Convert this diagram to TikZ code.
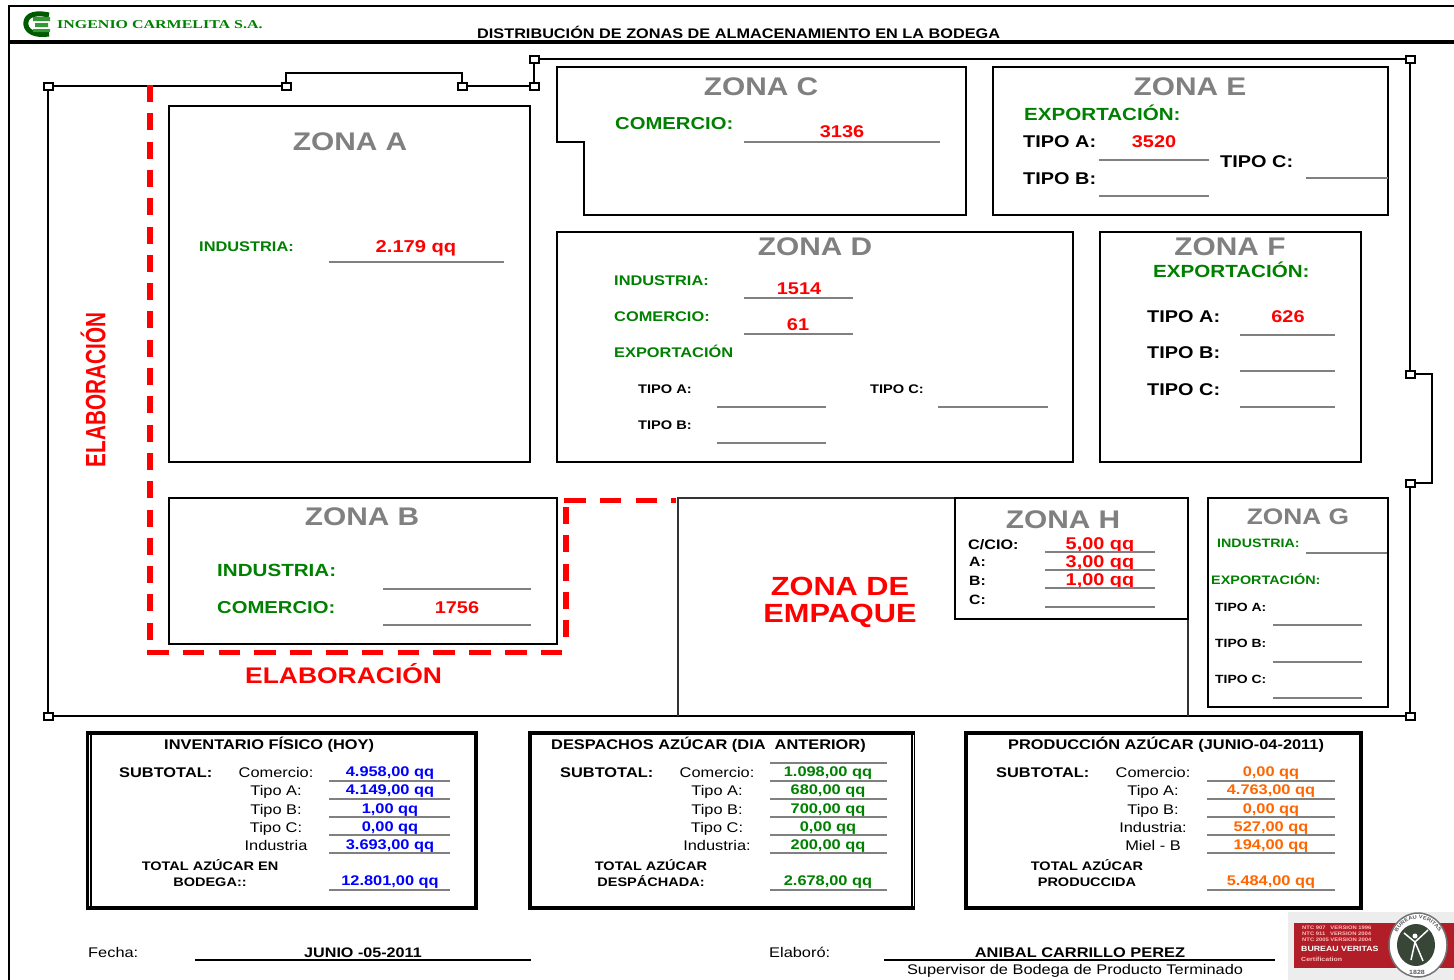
\documentclass[tikz,border=0pt]{standalone}
\usepackage{fontspec}
\setmainfont[FakeStretch=1.17]{Liberation Sans}
\newfontfamily\narrowface[FakeStretch=0.74]{Liberation Sans}
\newfontfamily\serifface[FakeStretch=1.33]{Liberation Serif}
\newcommand{\fsz}[1]{\fontsize{#1}{#1}\selectfont}
\definecolor{cgreen}{RGB}{0,128,0}
\definecolor{cred}{RGB}{255,0,0}
\definecolor{cblue}{RGB}{0,0,255}
\definecolor{corange}{RGB}{255,102,0}
\definecolor{cgray}{RGB}{128,128,128}
\definecolor{bvred}{RGB}{178,30,40}
\definecolor{bvdark}{RGB}{55,70,55}
\usetikzlibrary{decorations.text}

\begin{document}
\begin{tikzpicture}[x=1pt,y=-1pt,
  every node/.style={inner sep=0pt},
  post/.style={draw,line width=2pt,fill=white,minimum width=9pt,minimum height=7pt},
  wall/.style={line width=2pt},
  zoneline/.style={line width=1.8pt},
  uline/.style={cgray,line width=1.3pt},
  elabcol/.style={cred,line width=6pt,dash pattern=on 17pt off 11.3pt},
  elabrow/.style={cred,line width=5pt,dash pattern=on 21.5pt off 14.3pt},
  sumframe/.style={line width=4pt},
  zonetitle/.style={anchor=base,text=cgray,font=\bfseries\fsz{#1}},
  greenlab/.style={anchor=base west,text=cgreen,font=\bfseries\fsz{#1}},
  blacklab/.style={anchor=base west,font=\bfseries\fsz{#1}},
  redval/.style={anchor=base,text=cred,font=\bfseries\fsz{#1}},
  boxhead/.style={anchor=base west,font=\bfseries\fsz{14}},
  sublab/.style={anchor=base,font=\fsz{14}},
  totlab/.style={anchor=base,font=\bfseries\fsz{12.4}},
  sumval/.style={anchor=base,text=#1,font=\bfseries\fsz{14}}
]
  \useasboundingbox (0,0) rectangle (1454,980);
  \fill[white] (0,0) rectangle (1454,980);

  % Page frame
  \draw[line width=2pt] (1454,6) -- (9,6) -- (9,980);
  \draw[line width=3.5pt] (9,42) -- (1454,42);

  % Header
  \draw[cgreen!70!black,line width=5pt] (49,15) .. controls (30,11) and (25,18) .. (26,25) .. controls (27,32) and (36,36) .. (49,34);
  \fill[cgreen!80] (33,17) rectangle (50,21) (35,23) rectangle (48,27) (33,29) rectangle (50,32);
  \node[anchor=base west,text=cgreen,font=\serifface\bfseries\fsz{12}] (company) at (57,28) {INGENIO CARMELITA S.A.};
  \node[anchor=base west,font=\bfseries\fsz{13.9}] (title) at (477,38) {DISTRIBUCIÓN DE ZONAS DE ALMACENAMIENTO EN LA BODEGA};

  % Walls
  \node[post] (p1) at (48,86) {};
  \node[post] (p2) at (286,86) {};
  \node[post] (p3) at (462,86) {};
  \node[post] (p4) at (534,86) {};
  \node[post] (p5) at (534,59) {};
  \node[post] (p6) at (1410,59) {};
  \node[post] (p7) at (1410,374) {};
  \node[post] (p8) at (1410,483) {};
  \node[post] (p9) at (1410,716) {};
  \node[post] (p10) at (48,716) {};
  \draw[wall] (p1) -- (p2);
  \draw[wall] (p2) -- (286,73) -- (462,73) -- (p3);
  \draw[wall] (p3) -- (p4);
  \draw[wall] (p4) -- (p5);
  \draw[wall] (p5) -- (p6);
  \draw[wall] (p6) -- (p7);
  \draw[wall] (p7) -- (1432,374) -- (1432,483) -- (p8);
  \draw[wall] (p8) -- (p9);
  \draw[wall] (p9) -- (p10);
  \draw[wall] (p10) -- (p1);

  % Elaboracion
  \draw[elabcol] (150,85) -- (150,640);
  \draw[elabrow] (147,652.5) -- (563,652.5);
  \draw[elabcol] (565.7,507) -- (565.7,640);
  \draw[elabrow] (564,500) -- (676,500);
  \node[rotate=90,anchor=center,text=cred,font=\narrowface\bfseries\fsz{28}] (elabv) at (93,390) {ELABORACIÓN};
  \node[anchor=base west,text=cred,font=\bfseries\fsz{22.6}] (elabh) at (245,683) {ELABORACIÓN};

  % Zona A
  \draw[zoneline] (169,106) rectangle (530,462);
  \node[zonetitle=25.5] (za) at (350,150) {ZONA A};
  \node[greenlab=14] (za1) at (199,251) {INDUSTRIA:};
  \node[redval=17.2] (zav) at (416,252) {2.179 qq};
  \draw[uline] (329,262) -- (504,262);

  % Zona C
  \draw[zoneline] (557,67) -- (966,67) -- (966,215) -- (584,215) -- (584,142) -- (557,142) -- cycle;
  \node[zonetitle=25.5] (zc) at (761,95.5) {ZONA C};
  \node[greenlab=17.3] (zc1) at (615,129) {COMERCIO:};
  \node[redval=17] (zcv) at (842,137) {3136};
  \draw[uline] (744,142) -- (940,142);

  % Zona E
  \draw[zoneline] (993,67) rectangle (1388,215);
  \node[zonetitle=25.5] (ze) at (1190,95.5) {ZONA E};
  \node[greenlab=17.6] (ze1) at (1024,120) {EXPORTACIÓN:};
  \node[blacklab=17] (ze2) at (1023,147) {TIPO A:};
  \node[redval=17] (zev) at (1154,147) {3520};
  \node[blacklab=17] (ze3) at (1023,184) {TIPO B:};
  \node[blacklab=17] (ze4) at (1220,167) {TIPO C:};
  \draw[uline] (1099,160) -- (1209,160);
  \draw[uline] (1099,196) -- (1209,196);
  \draw[uline] (1306,178) -- (1388,178);

  % Zona D
  \draw[zoneline] (557,232) rectangle (1073,462);
  \node[zonetitle=25.5] (zd) at (815,255) {ZONA D};
  \node[greenlab=14] (zd1) at (614,285) {INDUSTRIA:};
  \node[greenlab=14] (zd2) at (614,321) {COMERCIO:};
  \node[greenlab=14] (zd3) at (614,357) {EXPORTACIÓN};
  \node[redval=17] (zdv1) at (799,294) {1514};
  \node[redval=17] (zdv2) at (798,330) {61};
  \draw[uline] (744,298) -- (853,298);
  \draw[uline] (744,334) -- (853,334);
  \node[blacklab=12.5] (zd4) at (638,393) {TIPO A:};
  \node[blacklab=12.5] (zd5) at (870,393) {TIPO C:};
  \node[blacklab=12.5] (zd6) at (638,429) {TIPO B:};
  \draw[uline] (717,407) -- (826,407);
  \draw[uline] (938,407) -- (1048,407);
  \draw[uline] (717,443) -- (826,443);

  % Zona F
  \draw[zoneline] (1100,232) rectangle (1361,462);
  \node[zonetitle=25.5] (zf) at (1230,255) {ZONA F};
  \node[greenlab=17.6] (zf1) at (1153,277) {EXPORTACIÓN:};
  \node[blacklab=17] (zf2) at (1147,322) {TIPO A:};
  \node[blacklab=17] (zf3) at (1147,358) {TIPO B:};
  \node[blacklab=17] (zf4) at (1147,395) {TIPO C:};
  \node[redval=17] (zfv) at (1288,322) {626};
  \draw[uline] (1240,335) -- (1335,335);
  \draw[uline] (1240,371) -- (1335,371);
  \draw[uline] (1240,407) -- (1335,407);

  % Zona B
  \draw[zoneline] (169,498) rectangle (557,644);
  \node[zonetitle=25.5] (zb) at (362,525) {ZONA B};
  \node[greenlab=17.6] (zb1) at (217,576) {INDUSTRIA:};
  \node[greenlab=17.3] (zb2) at (217,613) {COMERCIO:};
  \node[redval=17] (zbv) at (457,613) {1756};
  \draw[uline] (383,589) -- (531,589);
  \draw[uline] (383,625) -- (531,625);

  % Zona de empaque
  \draw[zoneline,black!80] (678,716) -- (678,498) -- (955,498);
  \draw[zoneline,black!80] (1188,619) -- (1188,716);
  \node[redval=26.3] (emp1) at (840,595) {ZONA DE};
  \node[redval=26.3] (emp2) at (840,622) {EMPAQUE};

  % Zona H
  \draw[zoneline] (955,498) rectangle (1188,619);
  \node[zonetitle=25.5] (zh) at (1063,528) {ZONA H};
  \node[blacklab=13.8] (zh1) at (968,549) {C/CIO:};
  \node[blacklab=13.5] (zh2) at (969,566) {A:};
  \node[blacklab=13.5] (zh3) at (969,585) {B:};
  \node[blacklab=13.5] (zh4) at (969,604) {C:};
  \node[redval=17] (zhv1) at (1100,549) {5,00 qq};
  \node[redval=17] (zhv2) at (1100,567) {3,00 qq};
  \node[redval=17] (zhv3) at (1100,585) {1,00 qq};
  \draw[uline] (1045,552) -- (1155,552);
  \draw[uline] (1045,570) -- (1155,570);
  \draw[uline] (1045,588) -- (1155,588);
  \draw[uline] (1045,607) -- (1155,607);

  % Zona G
  \draw[zoneline] (1208,498) rectangle (1388,707);
  \node[zonetitle=22.5] (zg) at (1298,524) {ZONA G};
  \node[greenlab=12.2] (zg1) at (1217,547) {INDUSTRIA:};
  \node[greenlab=12.3] (zg2) at (1211,584) {EXPORTACIÓN:};
  \node[blacklab=11.9] (zg3) at (1215,611) {TIPO A:};
  \node[blacklab=11.9] (zg4) at (1215,647) {TIPO B:};
  \node[blacklab=11.9] (zg5) at (1215,683) {TIPO C:};
  \draw[uline] (1306,553) -- (1387,553);
  \draw[uline] (1273,625) -- (1362,625);
  \draw[uline] (1273,662) -- (1362,662);
  \draw[uline] (1273,698) -- (1362,698);

  % Inventario
  \draw[sumframe] (88,733) rectangle (476,908);
  \draw[white,line width=1.5pt] (89.6,735) -- (89.6,906);
  \draw[line width=2pt] (91,735) -- (91,906);
  \node[boxhead] (inv0) at (164,749) {INVENTARIO FÍSICO (HOY)};
  \node[blacklab=14] (inv1) at (119,777) {SUBTOTAL:};
  \node[sublab] (inv2) at (276,777) {Comercio:};
  \node[sublab] (inv3) at (276,795) {Tipo A:};
  \node[sublab] (inv4) at (276,814) {Tipo B:};
  \node[sublab] (inv5) at (276,832) {Tipo C:};
  \node[sublab] (inv6) at (276,850) {Industria};
  \node[totlab] (inv7) at (210,870) {TOTAL AZÚCAR EN};
  \node[totlab] (inv8) at (210,886) {BODEGA::};
  \node[sumval=cblue] (invv1) at (390,776) {4.958,00 qq};
  \node[sumval=cblue] (invv2) at (390,794) {4.149,00 qq};
  \node[sumval=cblue] (invv3) at (390,813) {1,00 qq};
  \node[sumval=cblue] (invv4) at (390,831) {0,00 qq};
  \node[sumval=cblue] (invv5) at (390,849) {3.693,00 qq};
  \node[sumval=cblue] (invv6) at (390,885) {12.801,00 qq};
  \draw[uline] (329,781) -- (450,781);
  \draw[uline] (329,799) -- (450,799);
  \draw[uline] (329,817) -- (450,817);
  \draw[uline] (329,835) -- (450,835);
  \draw[uline] (329,853) -- (450,853);
  \draw[uline] (329,890) -- (450,890);

  % Despachos
  \draw[sumframe] (530,733) rectangle (913,908);
  \draw[white,line width=1pt] (913.3,735) -- (913.3,906);
  \node[boxhead] (des0) at (551,749) {DESPACHOS AZÚCAR (DIA\ \ ANTERIOR)};
  \node[blacklab=14] (des1) at (560,777) {SUBTOTAL:};
  \node[sublab] (des2) at (717,777) {Comercio:};
  \node[sublab] (des3) at (717,795) {Tipo A:};
  \node[sublab] (des4) at (717,814) {Tipo B:};
  \node[sublab] (des5) at (717,832) {Tipo C:};
  \node[sublab] (des6) at (717,850) {Industria:};
  \node[totlab] (des7) at (651,870) {TOTAL AZÚCAR};
  \node[totlab] (des8) at (651,886) {DESPÁCHADA:};
  \node[sumval=cgreen] (desv1) at (828,776) {1.098,00 qq};
  \node[sumval=cgreen] (desv2) at (828,794) {680,00 qq};
  \node[sumval=cgreen] (desv3) at (828,813) {700,00 qq};
  \node[sumval=cgreen] (desv4) at (828,831) {0,00 qq};
  \node[sumval=cgreen] (desv5) at (828,849) {200,00 qq};
  \node[sumval=cgreen] (desv6) at (828,885) {2.678,00 qq};
  \draw[uline] (770,763) -- (887,763);
  \draw[uline] (770,781) -- (887,781);
  \draw[uline] (770,799) -- (887,799);
  \draw[uline] (770,817) -- (887,817);
  \draw[uline] (770,835) -- (887,835);
  \draw[uline] (770,853) -- (887,853);
  \draw[uline] (770,890) -- (887,890);

  % Produccion
  \draw[sumframe] (966,733) rectangle (1361,908);
  \node[boxhead] (pro0) at (1008,749) {PRODUCCIÓN AZÚCAR (JUNIO-04-2011)};
  \node[blacklab=14] (pro1) at (996,777) {SUBTOTAL:};
  \node[sublab] (pro2) at (1153,777) {Comercio:};
  \node[sublab] (pro3) at (1153,795) {Tipo A:};
  \node[sublab] (pro4) at (1153,814) {Tipo B:};
  \node[sublab] (pro5) at (1153,832) {Industria:};
  \node[sublab] (pro6) at (1153,850) {Miel - B};
  \node[totlab] (pro7) at (1087,870) {TOTAL AZÚCAR};
  \node[totlab] (pro8) at (1087,886) {PRODUCCIDA};
  \node[sumval=corange] (prov1) at (1271,776) {0,00 qq};
  \node[sumval=corange] (prov2) at (1271,794) {4.763,00 qq};
  \node[sumval=corange] (prov3) at (1271,813) {0,00 qq};
  \node[sumval=corange] (prov4) at (1271,831) {527,00 qq};
  \node[sumval=corange] (prov5) at (1271,849) {194,00 qq};
  \node[sumval=corange] (prov6) at (1271,885) {5.484,00 qq};
  \draw[uline] (1207,781) -- (1335,781);
  \draw[uline] (1207,799) -- (1335,799);
  \draw[uline] (1207,817) -- (1335,817);
  \draw[uline] (1207,835) -- (1335,835);
  \draw[uline] (1207,853) -- (1335,853);
  \draw[uline] (1207,890) -- (1335,890);

  % Firma
  \node[anchor=base west,font=\fsz{14}] (fecha) at (88,957) {Fecha:};
  \node[anchor=base,font=\bfseries\fsz{13.8}] (fechav) at (363,957) {JUNIO -05-2011};
  \draw[line width=1.5pt] (195,960) -- (531,960);
  \node[anchor=base west,font=\fsz{14}] (elaboro) at (769,957) {Elaboró:};
  \node[anchor=base,font=\bfseries\fsz{14}] (firma) at (1080,957) {ANIBAL CARRILLO PEREZ};
  \draw[line width=1.5pt] (884,960) -- (1275,960);
  \node[anchor=base,font=\fsz{14}] (cargo) at (1075,974) {Supervisor de Bodega de Producto Terminado};

  % Sello
  \fill[black!7] (1288,912) rectangle (1454,980);
  \fill[bvred] (1294,923) rectangle (1454,968);
  \node[anchor=base west,text=red!25,font=\bfseries\fsz{5}] (bv1) at (1302,929) {NTC 907\ \ \ VERSION 1996};
  \node[anchor=base west,text=red!25,font=\bfseries\fsz{5}] (bv2) at (1302,935) {NTC 911\ \ \ VERSION 2004};
  \node[anchor=base west,text=red!25,font=\bfseries\fsz{5}] (bv3) at (1302,941) {NTC 2005 VERSION 2004};
  \node[anchor=base west,text=white,font=\bfseries\fsz{7.5}] (bv4) at (1301,951) {BUREAU VERITAS};
  \node[anchor=base west,text=red!25,font=\bfseries\fsz{6}] (bv5) at (1301,961) {Certification};
  \fill[white,draw=black!55,line width=1.5pt] (1418,945) ellipse [x radius=29,y radius=32];
  \fill[bvdark] (1416,945) ellipse [x radius=19,y radius=21];
  \draw[white,line width=1.5pt] (1404,933) -- (1415,942) -- (1428,930) (1415,942) -- (1411,960) (1415,942) -- (1423,961);
  \fill[white] (1415,936) circle (2.5);
  \path[decorate,decoration={text along path,text align=center,
    text={|\bfseries\fsz{5}\color{black!65}|BUREAU VERITAS}}]
    (1394,945) arc [start angle=180,end angle=360,x radius=24,y radius=26];
  \node[anchor=center,text=black!65,font=\bfseries\fsz{6}] (bv6) at (1417,972) {1828};
\end{tikzpicture}
\end{document}
